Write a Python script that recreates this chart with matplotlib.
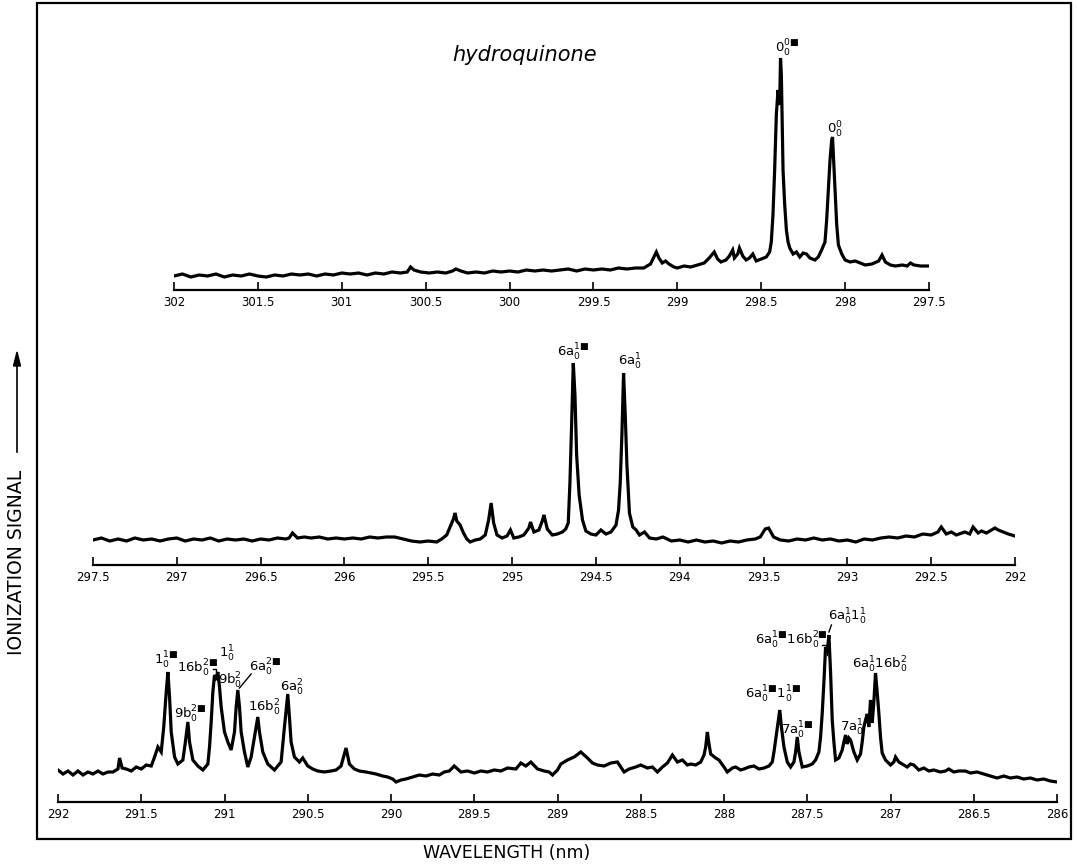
import matplotlib
matplotlib.use("Agg")
import matplotlib.pyplot as plt
from matplotlib.ticker import MultipleLocator, FuncFormatter
from matplotlib.patches import Rectangle
from matplotlib.lines import Line2D

plt.rcParams['font.family'] = ['DejaVu Sans']
plt.rcParams['mathtext.fontset'] = 'dejavusans'

# ---------------- data (wavelength nm, ionization signal, arb. units) ----------------
top_trace = [
    (302.00,14),(301.95,16),(301.90,13),(301.85,15),(301.80,14),(301.75,16),(301.70,13),(301.65,15),
    (301.60,14),(301.55,16),(301.50,14),(301.45,13),(301.40,15),(301.35,14),(301.30,16),(301.25,15),
    (301.20,16),(301.15,14),(301.10,16),(301.05,15),(301.00,17),(300.95,16),(300.90,17),(300.85,15),
    (300.80,17),(300.75,16),(300.70,18),(300.65,17),(300.61,18),(300.59,23),(300.57,20),(300.53,18),
    (300.48,17),(300.43,18),(300.38,17),(300.34,19),(300.32,21),(300.29,19),(300.25,17),(300.20,18),
    (300.15,17),(300.10,19),(300.05,18),(300.00,19),(299.95,18),(299.90,20),(299.85,19),(299.80,20),
    (299.75,19),(299.70,20),(299.65,21),(299.60,19),(299.55,21),(299.50,20),(299.45,21),(299.40,20),
    (299.35,22),(299.30,21),(299.25,22),(299.20,22),(299.16,26),(299.14,33),(299.125,38),(299.11,32),
    (299.09,27),(299.07,29),(299.05,26),(299.02,23),(299.00,22),(298.96,24),(298.92,23),(298.88,25),
    (298.84,27),(298.81,32),(298.78,38),(298.76,31),(298.74,28),(298.71,30),(298.69,34),(298.67,40),
    (298.66,32),(298.64,36),(298.63,42),(298.61,34),(298.59,30),(298.57,32),(298.55,36),(298.53,29),
    (298.50,31),(298.47,33),(298.45,38),(298.44,48),(298.43,75),(298.42,120),(298.41,175),(298.40,200),
    (298.39,185),(298.385,232),(298.38,215),(298.375,170),(298.37,120),(298.36,85),(298.35,60),
    (298.34,48),(298.33,42),(298.31,36),(298.29,38),(298.27,33),(298.25,37),(298.23,36),(298.21,32),
    (298.18,30),(298.16,33),(298.14,40),(298.12,48),(298.11,70),(298.10,100),(298.09,130),(298.08,150),
    (298.075,153),(298.07,135),(298.06,100),(298.05,65),(298.04,45),(298.02,36),(298.00,30),(297.97,28),
    (297.94,29),(297.91,27),(297.88,25),(297.84,26),(297.80,29),(297.78,35),(297.76,28),(297.73,25),
    (297.70,24),(297.66,25),(297.63,24),(297.61,27),(297.59,25),(297.55,24),(297.50,24),
]

mid_trace = [
    (297.50,25),(297.45,27),(297.40,24),(297.35,26),(297.30,24),(297.25,27),(297.20,25),(297.15,26),
    (297.10,24),(297.05,26),(297.00,27),(296.95,24),(296.90,26),(296.85,25),(296.80,27),(296.75,24),
    (296.70,26),(296.65,25),(296.60,26),(296.55,24),(296.50,26),(296.45,25),(296.40,27),(296.35,26),
    (296.33,27),(296.31,32),(296.28,27),(296.24,28),(296.20,27),(296.15,28),(296.10,26),(296.05,27),
    (296.00,26),(295.95,27),(295.90,26),(295.85,28),(295.80,27),(295.75,28),(295.70,28),(295.65,26),
    (295.60,24),(295.55,23),(295.50,24),(295.45,23),(295.42,26),(295.39,30),(295.37,38),(295.35,46),
    (295.34,52),(295.33,44),(295.31,40),(295.29,32),(295.27,26),(295.25,23),(295.22,25),(295.19,26),
    (295.16,30),(295.14,45),(295.125,62),(295.11,42),(295.09,30),(295.06,27),(295.03,29),(295.01,35),
    (294.99,27),(294.96,28),(294.93,30),(294.90,37),(294.89,43),(294.87,33),(294.84,35),(294.82,44),
    (294.81,50),(294.79,36),(294.76,30),(294.73,31),(294.70,33),(294.68,36),(294.665,42),(294.655,82),
    (294.645,140),(294.635,202),(294.625,170),(294.615,110),(294.60,70),(294.58,45),(294.56,34),
    (294.53,31),(294.50,30),(294.47,35),(294.44,31),(294.41,33),(294.38,40),(294.365,55),(294.355,82),
    (294.345,130),(294.335,192),(294.325,150),(294.315,100),(294.30,52),(294.28,38),(294.26,35),
    (294.24,30),(294.21,33),(294.18,27),(294.14,26),(294.10,28),(294.05,24),(294.00,25),(293.95,23),
    (293.90,25),(293.85,23),(293.80,24),(293.75,22),(293.70,24),(293.65,23),(293.60,25),(293.55,26),
    (293.52,28),(293.49,36),(293.47,37),(293.44,28),(293.40,25),(293.35,24),(293.30,26),(293.25,25),
    (293.20,27),(293.15,25),(293.10,26),(293.05,24),(293.00,25),(292.95,23),(292.90,26),(292.85,25),
    (292.80,27),(292.75,28),(292.70,27),(292.65,29),(292.60,28),(292.55,31),(292.50,30),(292.46,33),
    (292.44,38),(292.41,31),(292.38,33),(292.35,30),(292.30,33),(292.27,31),(292.25,38),(292.22,32),
    (292.20,34),(292.17,32),(292.14,35),(292.12,37),(292.10,35),(292.07,33),(292.04,31),(292.00,29),
]

low_trace = [
    (292.00,32),(291.97,28),(291.94,31),(291.91,27),(291.88,31),(291.85,27),(291.82,30),(291.79,28),
    (291.76,31),(291.73,28),(291.70,30),(291.67,30),(291.64,33),(291.63,44),(291.615,34),(291.59,33),
    (291.56,31),(291.53,35),(291.50,33),(291.47,37),(291.44,36),(291.42,45),(291.40,55),(291.38,50),
    (291.365,75),(291.35,110),(291.34,130),(291.33,105),(291.32,70),(291.30,45),(291.28,38),(291.25,42),
    (291.235,60),(291.22,80),(291.21,60),(291.19,42),(291.16,36),(291.13,32),(291.10,38),(291.09,55),
    (291.08,80),(291.07,110),(291.06,127),(291.05,122),(291.04,130),(291.03,115),(291.02,95),
    (291.00,70),(290.98,60),(290.96,52),(290.94,70),(290.93,95),(290.92,112),(290.91,95),(290.90,70),
    (290.88,50),(290.86,35),(290.84,45),(290.82,65),(290.80,85),(290.79,70),(290.77,50),(290.74,38),
    (290.70,32),(290.66,40),(290.64,75),(290.62,108),(290.61,85),(290.60,60),(290.58,45),(290.55,40),
    (290.53,44),(290.50,36),(290.47,33),(290.44,31),(290.40,30),(290.36,31),(290.33,32),(290.30,36),
    (290.27,54),(290.25,38),(290.22,33),(290.19,31),(290.15,30),(290.12,29),(290.09,28),(290.05,26),
    (290.02,25),(289.99,23),(289.97,20),(289.94,22),(289.91,23),(289.87,25),(289.83,27),(289.79,26),
    (289.75,28),(289.71,27),(289.68,30),(289.65,31),(289.62,36),(289.58,30),(289.54,31),(289.50,29),
    (289.46,31),(289.42,30),(289.38,32),(289.34,31),(289.30,34),(289.25,33),(289.22,39),(289.19,36),
    (289.16,40),(289.12,33),(289.08,31),(289.05,30),(289.03,27),(289.00,32),(288.98,38),(288.96,40),
    (288.94,42),(288.90,45),(288.86,50),(288.82,44),(288.79,39),(288.76,37),(288.72,36),(288.68,39),
    (288.64,40),(288.60,30),(288.57,33),(288.53,35),(288.50,37),(288.46,34),(288.43,35),(288.40,30),
    (288.37,35),(288.34,39),(288.31,47),(288.28,40),(288.25,42),(288.22,37),(288.20,38),(288.17,37),
    (288.14,40),(288.12,47),(288.11,55),(288.10,70),(288.09,58),(288.08,48),(288.05,44),(288.03,42),
    (288.00,35),(287.98,30),(287.95,34),(287.93,35),(287.90,32),(287.88,33),(287.85,35),(287.82,36),
    (287.79,33),(287.76,34),(287.73,36),(287.71,40),(287.70,50),(287.69,62),(287.675,80),(287.665,92),
    (287.655,75),(287.64,55),(287.62,40),(287.60,35),(287.58,40),(287.57,50),(287.56,65),(287.55,50),
    (287.53,35),(287.50,36),(287.47,38),(287.45,42),(287.43,50),(287.42,65),(287.41,89),(287.40,120),
    (287.39,155),(287.38,150),(287.37,167),(287.36,130),(287.35,82),(287.34,60),(287.33,42),(287.31,44),
    (287.29,52),(287.28,60),(287.27,67),(287.26,58),(287.25,64),(287.24,62),(287.22,50),(287.20,42),
    (287.18,48),(287.17,60),(287.16,75),(287.15,82),(287.14,88),(287.13,75),(287.12,102),(287.11,79),
    (287.10,100),(287.09,129),(287.08,110),(287.07,89),(287.06,65),(287.05,49),(287.03,42),(287.00,37),
    (286.98,40),(286.97,45),(286.95,40),(286.93,38),(286.90,35),(286.88,38),(286.86,37),(286.83,32),
    (286.80,34),(286.77,31),(286.74,32),(286.70,30),(286.67,31),(286.65,33),(286.62,30),(286.59,31),
    (286.55,31),(286.52,29),(286.48,30),(286.44,28),(286.40,26),(286.36,24),(286.32,26),(286.28,24),
    (286.24,25),(286.20,23),(286.16,24),(286.12,22),(286.08,23),(286.04,21),(286.00,20),
]

title_text = "hydroquinone"
ylabel_text = "IONIZATION SIGNAL"
xlabel_text = "WAVELENGTH (nm)"

sq = r"\blacksquare"
top_labels = [
    (298.345, 242, r"$\mathregular{0_0^{0" + sq + "}}$"),
    (298.06, 160, r"$\mathregular{0_0^0}$"),
]
mid_labels = [
    (294.634, 213, r"$\mathregular{6a_0^{1" + sq + "}}$"),
    (294.295, 203, r"$\mathregular{6a_0^1}$"),
]
low_labels = [
    (291.35, 142, r"$\mathregular{1_0^{1" + sq + "}}$"),
    (291.205, 88, r"$\mathregular{9b_0^{2" + sq + "}}$"),
    (291.16, 134, r"$\mathregular{16b_0^{2" + sq + "}}$"),
    (290.985, 148, r"$\mathregular{1_0^1}$"),
    (290.965, 121, r"$\mathregular{9b_0^2}$"),
    (290.755, 135, r"$\mathregular{6a_0^{2" + sq + "}}$"),
    (290.76, 94, r"$\mathregular{16b_0^2}$"),
    (290.595, 114, r"$\mathregular{6a_0^2}$"),
    (287.706, 108, r"$\mathregular{6a_0^{1" + sq + "}1_0^{1" + sq + "}}$"),
    (287.56, 72, r"$\mathregular{7a_0^{1" + sq + "}}$"),
    (287.594, 162, r"$\mathregular{6a_0^{1" + sq + "}16b_0^{2" + sq + "}}$"),
    (287.26, 185, r"$\mathregular{6a_0^1 1_0^1}$"),
    (287.23, 74, r"$\mathregular{7a_0^1}$"),
    (287.065, 137, r"$\mathregular{6a_0^1 16b_0^2}$"),
]

# ---------------- figure ----------------
W, H = 1077, 866
fig = plt.figure(figsize=(W / 100, H / 100), dpi=100)

def px_axes(x0, x1, y_axis, y_top):
    return fig.add_axes([x0 / W, 1 - y_axis / H, (x1 - x0) / W, (y_axis - y_top) / H])

panels = [
    (top_trace, top_labels, (302.0, 297.5), (174, 929, 290, 40)),
    (mid_trace, mid_labels, (297.5, 292.0), (93, 1015, 565, 340)),
    (low_trace, low_labels, (292.0, 286.0), (58, 1057, 802, 600)),
]

axes = []
for trace, labels, xl, box in panels:
    ax = px_axes(*box)
    ymax = box[2] - box[3]
    wl = [p[0] for p in trace]
    sig = [p[1] for p in trace]
    ax.plot(wl, sig, color='black', lw=2.3, solid_joinstyle='miter')
    ax.set_xlim(xl)
    ax.set_ylim(0, ymax)
    for s in ['top', 'left', 'right']:
        ax.spines[s].set_visible(False)
    ax.spines['bottom'].set_linewidth(1.6)
    ax.yaxis.set_visible(False)
    ax.xaxis.set_major_locator(MultipleLocator(0.5))
    ax.xaxis.set_major_formatter(FuncFormatter(lambda v, p: f"{v:g}"))
    ax.tick_params(axis='x', direction='in', length=6, width=1.2, labelsize=8.5, pad=4)
    ax.patch.set_alpha(0)
    for lx, ly, txt in labels:
        ax.text(lx, ly, txt, ha='center', va='center', fontsize=9.5, clip_on=False)
    axes.append(ax)

ax_top, ax_mid, ax_low = axes
ax_top.text(0.465, 0.94, title_text, transform=ax_top.transAxes, fontsize=15,
            style='italic', ha='center', va='center')

# small connector lines in the bottom panel
ax_low.plot([290.84, 290.91], [128, 114], color='black', lw=1.0, clip_on=False)
ax_low.plot([291.07, 291.05, 291.05], [133, 133, 124], color='black', lw=1.0, clip_on=False)
ax_low.plot([287.412, 287.383, 287.383], [157, 157, 147], color='black', lw=1.0, clip_on=False)
ax_low.plot([287.355, 287.37], [177, 170], color='black', lw=1.0, clip_on=False)

# outer frame
fig.patches.append(Rectangle((37 / W, 1 - 839 / H), (1071 - 37) / W, (839 - 3) / H,
                             transform=fig.transFigure, fill=False, lw=1.6, ec='black'))

# axis titles
fig.text(17 / W, 1 - 562 / H, ylabel_text, rotation=90, ha='center', va='center', fontsize=13.5)
fig.add_artist(Line2D([17 / W, 17 / W], [1 - 452 / H, 1 - 360 / H], color='black', lw=1.2))
fig.patches.append(plt.Polygon([[17 / W, 1 - 352 / H], [13.5 / W, 1 - 366 / H], [20.5 / W, 1 - 366 / H]],
                               closed=True, color='black', transform=fig.transFigure))
fig.text(507 / W, 1 - 853 / H, xlabel_text, ha='center', va='center', fontsize=12.5)

fig.savefig("out.png", dpi=100)
